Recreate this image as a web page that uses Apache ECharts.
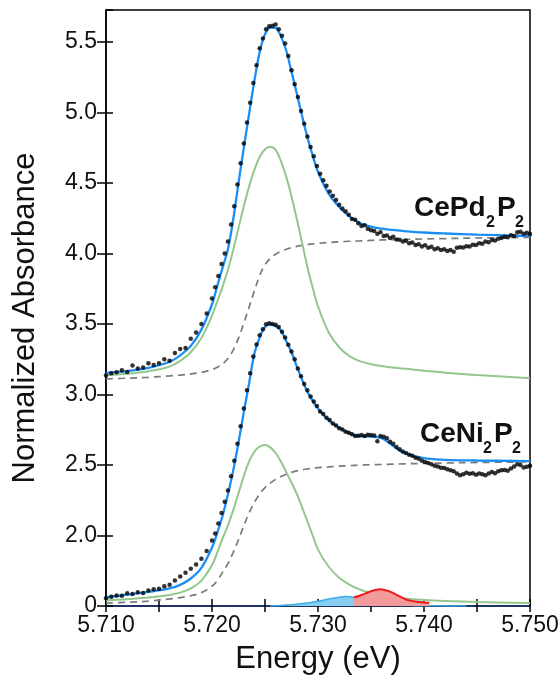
<!DOCTYPE html>
<html>
<head>
<meta charset="utf-8">
<title>Ce L3 edge XANES</title>
<script src="https://cdn.jsdelivr.net/npm/echarts@6.0.0/dist/echarts.min.js"></script>
<style>
  html, body { margin: 0; padding: 0; background: #fff; }
  #chart { width: 560px; height: 686px; }
</style>
</head>
<body>
<div id="chart"></div>
<script>
// energy grid of the measured points (keV)
const dotEnergy = [
  5.7100, 5.7105, 5.7110, 5.7115, 5.7120, 5.7125, 5.7130, 5.7135, 5.7140, 5.7145,
  5.7150, 5.7155, 5.7160, 5.7165, 5.7170, 5.7175, 5.7180, 5.7185, 5.7190, 5.7195, 5.7200,
  5.7203, 5.7206, 5.7209, 5.7212, 5.7215, 5.7218, 5.7221, 5.7224, 5.7227, 5.7230,
  5.7233, 5.7236, 5.7239, 5.7242, 5.7245, 5.7248, 5.7251, 5.7254, 5.7257, 5.7260,
  5.7263, 5.7266, 5.7269, 5.7272, 5.7275, 5.7278, 5.7281, 5.7284, 5.7287, 5.7290,
  5.7293, 5.7296, 5.7299, 5.7302, 5.7305, 5.7308, 5.7311, 5.7314, 5.7317, 5.7320,
  5.7323, 5.7326, 5.7329, 5.7332, 5.7335, 5.7338, 5.7341, 5.7344, 5.7347, 5.7350,
  5.7353, 5.7356, 5.7359, 5.7362, 5.7365, 5.7368, 5.7371, 5.7374, 5.7377, 5.7380,
  5.7383, 5.7386, 5.7389, 5.7392, 5.7395, 5.7398, 5.7401, 5.7404, 5.7407, 5.7410,
  5.7413, 5.7416, 5.7419, 5.7422, 5.7425, 5.7428, 5.7431, 5.7434, 5.7437, 5.7440,
  5.7443, 5.7446, 5.7449, 5.7452, 5.7455, 5.7458, 5.7461, 5.7464, 5.7467, 5.7470,
  5.7473, 5.7476, 5.7479, 5.7482, 5.7485, 5.7488, 5.7491, 5.7494, 5.7497, 5.7500
];

// CePd2P2 measured (offset upward)
const cepdDots = [
  3.135, 3.150, 3.158, 3.172, 3.160, 3.205, 3.185, 3.192, 3.222, 3.210,
  3.222, 3.250, 3.240, 3.295, 3.322, 3.330, 3.395, 3.440, 3.500, 3.575, 3.680,
  3.760, 3.840, 3.925, 4.000, 4.085, 4.205, 4.335, 4.490, 4.640, 4.780,
  4.930, 5.070, 5.210, 5.335, 5.455, 5.525, 5.590, 5.612, 5.615, 5.625,
  5.590, 5.545, 5.490, 5.400, 5.300, 5.200, 5.110, 5.010, 4.920, 4.830,
  4.755, 4.690, 4.620, 4.565, 4.520, 4.480, 4.440, 4.410, 4.380, 4.345,
  4.320, 4.300, 4.275, 4.245, 4.240, 4.215, 4.195, 4.200, 4.175, 4.165,
  4.160, 4.140, 4.150, 4.125, 4.128, 4.110, 4.118, 4.100, 4.098, 4.085,
  4.090, 4.072, 4.078, 4.060, 4.065, 4.050, 4.058, 4.040, 4.048, 4.030,
  4.038, 4.025, 4.030, 4.018, 4.025, 4.012, 4.040, 4.045, 4.042, 4.052,
  4.050, 4.062, 4.060, 4.072, 4.070, 4.085, 4.080, 4.095, 4.092, 4.105,
  4.110, 4.118, 4.115, 4.130, 4.125, 4.150, 4.155, 4.140, 4.148, 4.138
];

// CeNi2P2 measured
const ceniDots = [
  1.555, 1.565, 1.575, 1.572, 1.590, 1.585, 1.598, 1.592, 1.610, 1.618,
  1.622, 1.640, 1.650, 1.680, 1.710, 1.735, 1.765, 1.795, 1.835, 1.890, 1.965,
  2.015, 2.085, 2.160, 2.240, 2.320, 2.420, 2.530, 2.650, 2.775, 2.900,
  3.030, 3.150, 3.270, 3.355, 3.420, 3.462, 3.498, 3.505, 3.500, 3.495,
  3.478, 3.445, 3.405, 3.352, 3.305, 3.250, 3.185, 3.130, 3.075, 3.030,
  2.985, 2.950, 2.918, 2.880, 2.862, 2.835, 2.820, 2.795, 2.780, 2.760,
  2.752, 2.735, 2.728, 2.718, 2.705, 2.708, 2.712, 2.705, 2.715, 2.712,
  2.710, 2.668, 2.705, 2.700, 2.690, 2.665, 2.650, 2.628, 2.612, 2.595,
  2.585, 2.572, 2.565, 2.552, 2.545, 2.530, 2.522, 2.515, 2.505, 2.495,
  2.490, 2.480, 2.478, 2.470, 2.462, 2.455, 2.440, 2.428, 2.435, 2.445,
  2.438, 2.442, 2.430, 2.440, 2.435, 2.428, 2.440, 2.450, 2.442, 2.455,
  2.462, 2.465, 2.460, 2.475, 2.490, 2.505, 2.500, 2.482, 2.488, 2.495
];

// energy grid of the fitted curves
const fitEnergy = [
  5.710, 5.712, 5.714, 5.716, 5.717, 5.718, 5.719, 5.720, 5.7205, 5.721,
  5.7215, 5.722, 5.7225, 5.723, 5.7235, 5.724, 5.7245, 5.725, 5.7255, 5.726,
  5.7265, 5.727, 5.7275, 5.728, 5.7285, 5.729, 5.7295, 5.730, 5.731, 5.732,
  5.733, 5.734, 5.735, 5.736, 5.737, 5.738, 5.740, 5.742, 5.745, 5.750
];

const cepdFit = [
  3.154, 3.166, 3.188, 3.232, 3.278, 3.345, 3.460, 3.640, 3.770, 3.900,
  4.030, 4.240, 4.500, 4.750, 4.990, 5.225, 5.430, 5.555, 5.603, 5.600,
  5.540, 5.440, 5.290, 5.135, 4.975, 4.825, 4.695, 4.580, 4.425, 4.330,
  4.262, 4.215, 4.190, 4.176, 4.167, 4.160, 4.149, 4.142, 4.134, 4.124
];
const cepdPeak = [
  3.137, 3.147, 3.165, 3.198, 3.238, 3.300, 3.400, 3.560, 3.660, 3.765,
  3.885, 4.025, 4.180, 4.335, 4.475, 4.595, 4.685, 4.740, 4.757, 4.735,
  4.655, 4.545, 4.405, 4.245, 4.075, 3.905, 3.757, 3.625, 3.442, 3.335,
  3.270, 3.235, 3.215, 3.202, 3.192, 3.184, 3.168, 3.155, 3.138, 3.116
];
const cepdStep = [
  3.110, 3.116, 3.122, 3.132, 3.138, 3.146, 3.157, 3.177, 3.193, 3.217,
  3.255, 3.315, 3.400, 3.505, 3.620, 3.735, 3.845, 3.920, 3.965, 3.995,
  4.015, 4.030, 4.042, 4.051, 4.058, 4.064, 4.068, 4.072, 4.078, 4.083,
  4.087, 4.090, 4.093, 4.096, 4.098, 4.100, 4.103, 4.106, 4.110, 4.115
];

const ceniFit = [
  1.562, 1.580, 1.600, 1.625, 1.650, 1.695, 1.770, 1.915, 2.020, 2.140,
  2.290, 2.460, 2.660, 2.875, 3.080, 3.290, 3.405, 3.478, 3.495, 3.485,
  3.455, 3.380, 3.300, 3.200, 3.105, 3.020, 2.955, 2.900, 2.818, 2.765,
  2.727, 2.703, 2.702, 2.690, 2.640, 2.590, 2.548, 2.537, 2.532, 2.528
];
const ceniPeak = [
  1.540, 1.548, 1.560, 1.578, 1.595, 1.625, 1.680, 1.790, 1.880, 1.980,
  2.070, 2.180, 2.300, 2.420, 2.525, 2.595, 2.630, 2.641, 2.625, 2.585,
  2.525, 2.450, 2.375, 2.295, 2.200, 2.100, 2.000, 1.900, 1.780, 1.700,
  1.650, 1.615, 1.590, 1.572, 1.562, 1.553, 1.542, 1.535, 1.528, 1.521
];
const ceniStep = [
  1.520, 1.526, 1.535, 1.550, 1.560, 1.573, 1.595, 1.640, 1.680, 1.740,
  1.800, 1.880, 1.970, 2.070, 2.160, 2.235, 2.295, 2.340, 2.372, 2.398,
  2.418, 2.435, 2.448, 2.458, 2.466, 2.472, 2.477, 2.481, 2.487, 2.492,
  2.496, 2.499, 2.502, 2.504, 2.506, 2.508, 2.511, 2.514, 2.518, 2.522
];

// small CeNi2P2 components near the baseline
const cyanEnergy = [5.7255, 5.7265, 5.7275, 5.7285, 5.7295, 5.7305, 5.7315, 5.7326,
  5.7335, 5.7345, 5.7355, 5.7365, 5.7375, 5.7390, 5.7410, 5.7440];
const cyanPeak = [1.501, 1.504, 1.509, 1.517, 1.527, 1.540, 1.556, 1.567,
  1.562, 1.550, 1.537, 1.524, 1.513, 1.504, 1.501, 1.500];
const redEnergy = [5.7334, 5.7340, 5.7345, 5.7350, 5.7355, 5.7358, 5.7362, 5.7367,
  5.7372, 5.7377, 5.7382, 5.7387, 5.7393, 5.7400, 5.7405];
const redPeak = [1.562, 1.574, 1.590, 1.605, 1.615, 1.618, 1.616, 1.605,
  1.588, 1.568, 1.550, 1.538, 1.530, 1.525, 1.523];

// y axis: the lower spectrum sits on a broken axis, 1.5 is labelled "0"
const yZero = 1.5;
const yMax = 5.727;
const xMin = 5.710;
const xMax = 5.750;

const fontFamily = '"Liberation Sans", Arial, sans-serif';

function pairs(xs, ys) {
  return xs.map(function (x, i) { return [x, ys[i]]; });
}

function lineSeries(xs, ys, color, width, type, extra) {
  return Object.assign({
    type: 'line',
    data: pairs(xs, ys),
    showSymbol: false,
    smooth: 0.35,
    silent: true,
    lineStyle: { color: color, width: width, type: type || 'solid' }
  }, extra || {});
}

function subLabel(x, y, name, x2, x3, x4) {
  const big = { fontSize: 28, fontWeight: 'bold', fontFamily: fontFamily, fill: '#111', verticalAlign: 'middle' };
  const small = { fontSize: 16, fontWeight: 'bold', fontFamily: fontFamily, fill: '#111', verticalAlign: 'middle' };
  return [
    { type: 'text', x: x, y: y, style: Object.assign({ text: name }, big) },
    { type: 'text', x: x2, y: y + 15, style: Object.assign({ text: '2' }, small) },
    { type: 'text', x: x3, y: y, style: Object.assign({ text: 'P' }, big) },
    { type: 'text', x: x4, y: y + 15, style: Object.assign({ text: '2' }, small) }
  ];
}

const tickStyle = { color: '#000', width: 1.5 };

const chart = echarts.init(document.getElementById('chart'), null, { renderer: 'canvas' });

const option = {
  animation: false,
  backgroundColor: '#fff',
  grid: {
    left: 106, top: 10, width: 424, height: 596,
    show: true, borderColor: '#000', borderWidth: 1.5,
    outerBoundsMode: 'none'
  },
  xAxis: [
    {
      type: 'value', min: xMin, max: xMax, interval: 0.010, position: 'bottom',
      axisLine: { show: true, lineStyle: { color: '#1f3464', width: 2 } },
      axisTick: { show: true, inside: false, length: 6, lineStyle: tickStyle },
      minorTick: { show: true, splitNumber: 2, length: 6, lineStyle: tickStyle },
      axisLabel: {
        formatter: function (v) { return v.toFixed(3); },
        fontSize: 23, color: '#111', margin: 8, fontFamily: fontFamily
      },
      splitLine: { show: false },
      minorSplitLine: { show: false }
    },
    {
      // inner half of the crossing ticks
      type: 'value', min: xMin, max: xMax, interval: 0.010, position: 'top', offset: -596,
      axisLine: { show: false },
      axisTick: { show: true, length: 7, lineStyle: tickStyle },
      minorTick: { show: true, splitNumber: 2, length: 7, lineStyle: tickStyle },
      axisLabel: { show: false },
      splitLine: { show: false }
    }
  ],
  yAxis: [
    {
      type: 'value', min: yZero, max: yMax, interval: 0.5, position: 'left',
      axisLine: { show: true, lineStyle: { color: '#000', width: 1.5 } },
      axisTick: { show: true, inside: false, length: 9, lineStyle: tickStyle },
      axisLabel: {
        formatter: function (v) { return Math.abs(v - yZero) < 1e-6 ? '0' : v.toFixed(1); },
        showMaxLabel: false,
        fontSize: 23, color: '#111', margin: 9, fontFamily: fontFamily
      },
      splitLine: { show: false }
    },
    {
      type: 'value', min: yZero, max: yMax, interval: 0.5, position: 'right', offset: -424,
      axisLine: { show: false },
      axisTick: { show: true, length: 7, lineStyle: tickStyle },
      axisLabel: { show: false },
      splitLine: { show: false }
    }
  ],
  series: [
    lineSeries(fitEnergy, cepdStep, '#7a7a7a', 1.7, [7, 5], { z: 2 }),
    lineSeries(fitEnergy, ceniStep, '#7a7a7a', 1.7, [7, 5], { z: 2 }),
    lineSeries(fitEnergy, cepdPeak, '#93c78d', 2, 'solid', { z: 3 }),
    lineSeries(fitEnergy, ceniPeak, '#93c78d', 2, 'solid', { z: 3 }),
    lineSeries(cyanEnergy, cyanPeak, '#3aaee6', 1.5, 'solid', {
      z: 4, areaStyle: { color: '#86cff0', opacity: 1, origin: 'start' }
    }),
    lineSeries(redEnergy, redPeak, '#f01818', 2, 'solid', {
      z: 5, areaStyle: { color: '#f39a9a', opacity: 1, origin: 'start' }
    }),
    lineSeries(fitEnergy, cepdFit, '#1b8ef5', 2.3, 'solid', { z: 6 }),
    lineSeries(fitEnergy, ceniFit, '#1b8ef5', 2.3, 'solid', { z: 6 }),
    {
      type: 'scatter', data: pairs(dotEnergy, cepdDots), symbol: 'circle', symbolSize: 4.5,
      itemStyle: { color: '#000' }, silent: true, z: 7
    },
    {
      type: 'scatter', data: pairs(dotEnergy, ceniDots), symbol: 'circle', symbolSize: 4.5,
      itemStyle: { color: '#000' }, silent: true, z: 7
    }
  ],
  graphic: [
    {
      type: 'text', x: 25, y: 318, rotation: Math.PI / 2,
      style: {
        text: 'Normalized Absorbance', fontSize: 31, fontFamily: fontFamily,
        fill: '#111', align: 'center', verticalAlign: 'middle'
      }
    },
    {
      type: 'text', x: 318, y: 659,
      style: {
        text: 'Energy (eV)', fontSize: 31, fontFamily: fontFamily,
        fill: '#111', align: 'center', verticalAlign: 'middle'
      }
    }
  ].concat(
    subLabel(414, 208, 'CePd', 486, 497, 515),
    subLabel(420, 434, 'CeNi', 483, 494, 512)
  )
};

chart.setOption(option);
</script>
</body>
</html>
